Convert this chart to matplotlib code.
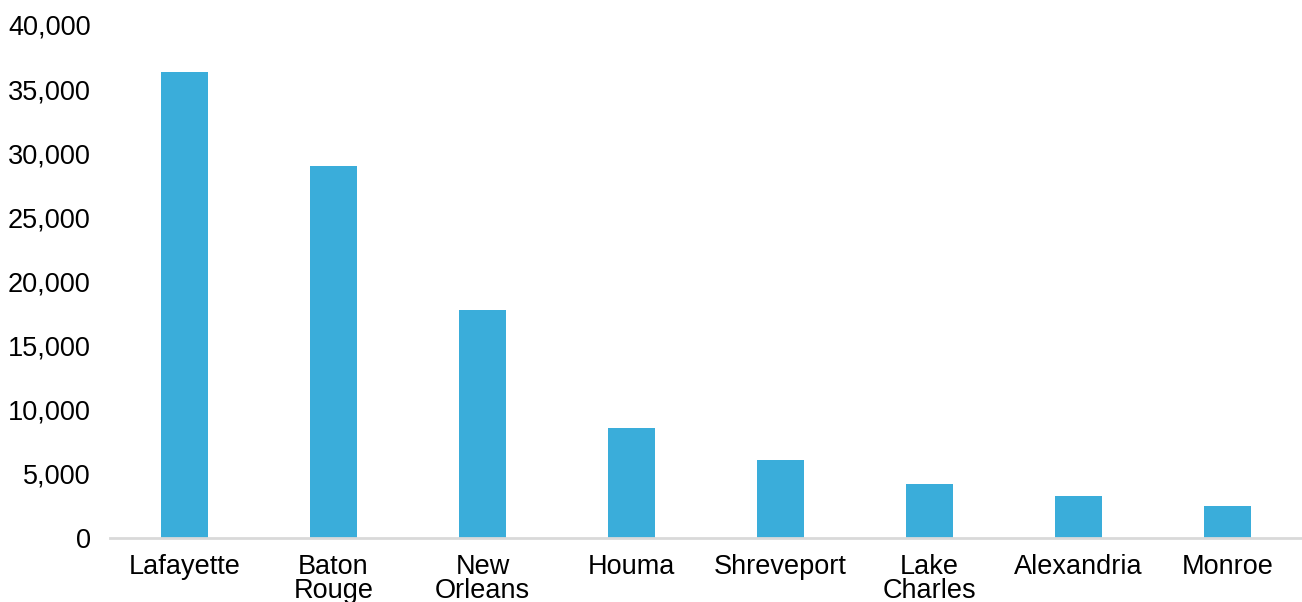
import matplotlib
matplotlib.use("Agg")
import matplotlib.pyplot as plt
from matplotlib.ticker import FuncFormatter

categories = ["Lafayette", "Baton\nRouge", "New\nOrleans", "Houma", "Shreveport",
              "Lake\nCharles", "Alexandria", "Monroe"]
values = [36300, 29000, 17800, 8550, 6080, 4180, 3270, 2490]

plt.rcParams['font.family'] = ['Liberation Sans', 'DejaVu Sans']

fig = plt.figure(figsize=(13.02, 6.02), dpi=100)
ax = fig.add_axes([110/1302, 1 - 538/602, (1302-110)/1302, (538-25)/602])

x = range(len(categories))
ax.bar(x, values, width=0.315, color='#3aadda', edgecolor='none')

ax.set_xlim(-0.5, len(categories) - 0.5)
ax.set_ylim(0, 40000)
ax.set_yticks(range(0, 40001, 5000))
ax.yaxis.set_major_formatter(FuncFormatter(lambda v, p: f"{int(v):,}"))
ax.set_xticks(list(x))
ax.set_xticklabels(categories, linespacing=0.92)

for s in ['top', 'right', 'left']:
    ax.spines[s].set_visible(False)
ax.spines['bottom'].set_color('#d9d9d9')
ax.spines['bottom'].set_linewidth(2)

ax.tick_params(axis='y', length=0, pad=14, labelsize=19.5, labelcolor='#000000')
ax.tick_params(axis='x', length=0, pad=11.5, labelsize=19.5, labelcolor='#000000')

fig.savefig("out.png", dpi=100)
